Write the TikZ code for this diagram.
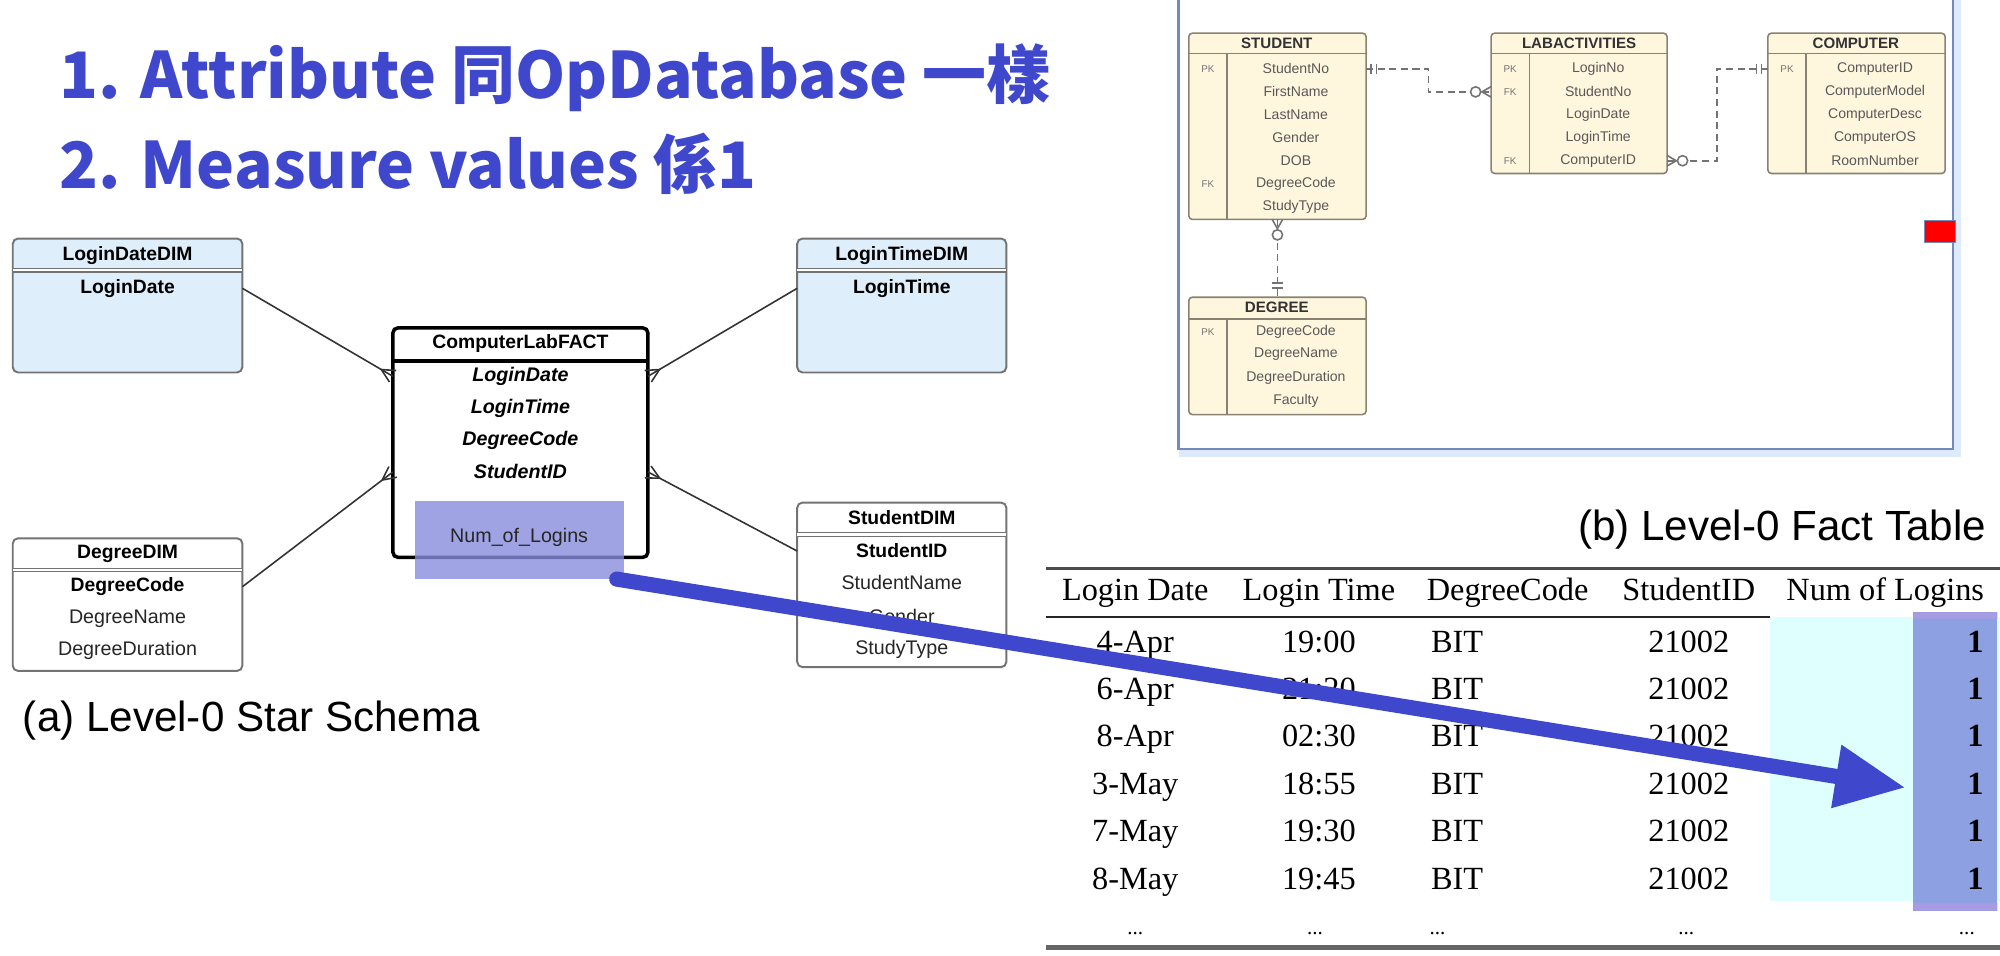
\documentclass[tikz,border=0pt]{standalone}
\usepackage{fontspec}
\setmainfont{Liberation Serif}
\newfontfamily\arialf{Liberation Sans}
\newfontfamily\cjk{Noto Sans CJK TC}
\usetikzlibrary{arrows.meta,calc,fit}

\definecolor{titleblue}{RGB}{63,72,204}
\definecolor{dimblue}{RGB}{222,238,250}
\definecolor{dimline}{RGB}{115,115,115}
\definecolor{erfill}{RGB}{255,246,222}
\definecolor{erline}{RGB}{135,130,115}
\definecolor{hilite}{RGB}{136,140,221}
\definecolor{cyanbg}{RGB}{223,255,255}
\definecolor{colblue}{RGB}{140,160,226}
\definecolor{colpurple}{RGB}{168,155,226}
\definecolor{framebl}{RGB}{115,138,192}
\definecolor{glowc}{RGB}{222,234,252}

\newcommand\crowfoot[5]{\draw[#5] ($(#1)!#4!90:(#2)$) -- ($(#1)!#3!(#2)$) -- ($(#1)!#4!-90:(#2)$);}

\begin{document}
\begin{tikzpicture}[x=0.12755mm,y=-0.12755mm,
  every node/.style={inner sep=0pt,outer sep=0pt},
  ttl/.style={font=\cjk\bfseries\fontsize{18.2}{22}\selectfont,text=titleblue,anchor=base west},
  figcap/.style={font=\arialf\fontsize{12}{14}\selectfont},
  dimbox/.style={draw=dimline,line width=0.55pt,rounded corners=1.5pt},
  hsep/.style={draw=dimline,double,double distance=0.6pt,line width=0.35pt},
  hd/.style={font=\arialf\bfseries\fontsize{5.5}{7}\selectfont},
  fkey/.style={font=\arialf\bfseries\itshape\fontsize{5.6}{7}\selectfont},
  attr/.style={font=\arialf\fontsize{5.6}{7}\selectfont,text=black!85},
  rel/.style={draw=black!80,line width=0.45pt},
  ertab/.style={draw=erline,fill=erfill,line width=0.45pt,rounded corners=1pt},
  erln/.style={draw=erline,line width=0.4pt},
  erhd/.style={font=\arialf\bfseries\fontsize{4.3}{5}\selectfont,text=black!80},
  errow/.style={font=\arialf\fontsize{4}{5}\selectfont,text=black!65},
  erkey/.style={font=\arialf\fontsize{2.8}{3}\selectfont,text=black!55},
  erlink/.style={draw=black!55,dash pattern=on 2pt off 1.3pt,line width=0.45pt},
  ermark/.style={draw=black!55,line width=0.45pt},
  tc/.style={font=\fontsize{9.2}{11}\selectfont,anchor=base},
  bigarr/.style={-{Triangle[length=20pt,width=17pt]},line width=4.3pt,draw=titleblue,line cap=round}
]
\useasboundingbox (0,0) rectangle (1568,749);

\node[ttl] (t1) at (47,77) {1. Attribute 同OpDatabase 一樣};
\node[ttl] (t2) at (47,148) {2. Measure values 係1};

\node[dimbox,fill=dimblue,fit={(10,187)(190,292)}] (ldd) {};
\draw[hsep] (ldd.west |- 0,212) -- (ldd.east |- 0,212);
\node[hd] (ldd0) at (100,200) {LoginDateDIM};
\node[hd] (ldd1) at (100,226) {LoginDate};

\node[dimbox,fill=dimblue,fit={(625,187)(789,292)}] (ltd) {};
\draw[hsep] (ltd.west |- 0,212) -- (ltd.east |- 0,212);
\node[hd] (ltd0) at (707,200) {LoginTimeDIM};
\node[hd] (ltd1) at (707,226) {LoginTime};

\node[dimbox,fill=white,fit={(10,422)(190,526)}] (ddim) {};
\draw[hsep] (ddim.west |- 0,447) -- (ddim.east |- 0,447);
\node[hd] (ddim0) at (100,434) {DegreeDIM};
\node[hd] (ddim1) at (100,460) {DegreeCode};
\node[attr] (ddim2) at (100,485) {DegreeName};
\node[attr] (ddim3) at (100,510) {DegreeDuration};

\node[dimbox,fill=white,fit={(625,394)(789,523)}] (sdim) {};
\draw[hsep] (sdim.west |- 0,419) -- (sdim.east |- 0,419);
\node[hd] (sdim0) at (707,406) {StudentDIM};
\node[hd] (sdim1) at (707,432) {StudentID};
\node[attr] (sdim2) at (707,457) {StudentName};
\node[attr] (sdim3) at (707,483) {Gender};
\node[attr] (sdim4) at (707,509) {StudyType};

\node[draw=black,line width=1pt,rounded corners=1.5pt,fill=white,fit={(308,257)(508,437)}] (fact) {};
\draw[black,line width=1pt] (fact.west |- 0,283) -- (fact.east |- 0,283);
\node[hd] (fact0) at (408,269) {ComputerLabFACT};
\node[fkey] (fk1) at (408,295) {LoginDate};
\node[fkey] (fk2) at (408,320) {LoginTime};
\node[fkey] (fk3) at (408,345) {DegreeCode};
\node[fkey] (fk4) at (408,370) {StudentID};
\node[fill=hilite,fill opacity=0.8,fit={(325,393)(489,454)}] (hl) {};
\node[attr] (meas) at (407,421) {Num\_of\_Logins};

\draw[rel] (ldd.east |- ldd1) coordinate (d1) -- (fact.west |- fk1) coordinate (c1);
\draw[rel] (ltd.west |- ltd1) coordinate (d2) -- (fact.east |- fk1) coordinate (c2);
\draw[rel] (ddim.east |- ddim1) coordinate (d3) -- (fact.west |- fk4) coordinate (c3);
\draw[rel] (sdim.west |- sdim1) coordinate (d4) -- (fact.east |- fk4) coordinate (c4);
\crowfoot{c1}{d1}{3.8pt}{1.9pt}{rel}
\crowfoot{c2}{d2}{3.8pt}{1.9pt}{rel}
\crowfoot{c3}{d3}{3.8pt}{1.9pt}{rel}
\crowfoot{c4}{d4}{3.8pt}{1.9pt}{rel}

\node[figcap,anchor=west] (capa) at (18,565) {(a) Level-0 Star Schema};

\draw[glowc,line width=2.5pt] (1534,0) -- (1534,355) -- (924,355);
\draw[framebl,line width=0.7pt] (924,0) -- (924,352) -- (1531,352) -- (1531,0);
\node[fill=red,draw=framebl,line width=0.4pt,fit={(1509,173)(1533,190)}] (redbox) {};

\node[ertab,fit={(932,26)(1071,172)}] (stu) {};
\draw[erln] (stu.west |- 0,42) -- (stu.east |- 0,42) (962,42) -- (962,172);
\node[erhd] (stu0) at (1001,34) {STUDENT};
\foreach \t [count=\i] in {StudentNo,FirstName,LastName,Gender,DOB,DegreeCode,StudyType}
  \node[errow] (stu\i) at (1016,36+18*\i) {\t};
\node[erkey] (stupk) at (947,54) {PK};
\node[erkey] (stufk) at (947,144) {FK};

\node[ertab,fit={(1169,26)(1307,136)}] (lab) {};
\draw[erln] (lab.west |- 0,42) -- (lab.east |- 0,42) (1199,42) -- (1199,136);
\node[erhd] (lab0) at (1238,34) {LABACTIVITIES};
\foreach \t [count=\i] in {LoginNo,StudentNo,LoginDate,LoginTime,ComputerID}
  \node[errow] (lab\i) at (1253,36+18*\i) {\t};
\node[erkey] (labpk) at (1184,54) {PK};
\node[erkey] (labfk1) at (1184,72) {FK};
\node[erkey] (labfk2) at (1184,126) {FK};

\node[ertab,fit={(1386,26)(1525,136)}] (comp) {};
\draw[erln] (comp.west |- 0,42) -- (comp.east |- 0,42) (1416,42) -- (1416,136);
\node[erhd] (comp0) at (1455,34) {COMPUTER};
\foreach \t [count=\i] in {ComputerID,ComputerModel,ComputerDesc,ComputerOS,RoomNumber}
  \node[errow] (comp\i) at (1470,36+18*\i) {\t};
\node[erkey] (comppk) at (1401,54) {PK};

\node[ertab,fit={(932,233)(1071,325)}] (deg) {};
\draw[erln] (deg.west |- 0,250) -- (deg.east |- 0,250) (962,250) -- (962,325);
\node[erhd] (deg0) at (1001,241) {DEGREE};
\foreach \t [count=\i] in {DegreeCode,DegreeName,DegreeDuration,Faculty}
  \node[errow] (deg\i) at (1016,242+18*\i) {\t};
\node[erkey] (degpk) at (947,260) {PK};

\draw[erlink] (stu.east |- stu1) coordinate (a1) -| (1120,72) coordinate (j1) -- (lab.west |- lab2) coordinate (b1);
\draw[ermark] (1075,50) -- (1075,58) (1079,50) -- (1079,58);
\draw[ermark,fill=white] ($(b1)!4.4pt!(j1)$) circle (1.45pt);
\crowfoot{b1}{j1}{2.6pt}{1.5pt}{ermark}

\draw[erlink] (lab.east |- lab5) coordinate (a2) -- (1346,126) coordinate (j2) |- (comp.west |- comp1) coordinate (b2);
\draw[ermark] (1377,50) -- (1377,58) (1381,50) -- (1381,58);
\draw[ermark,fill=white] ($(a2)!4.4pt!(j2)$) circle (1.45pt);
\crowfoot{a2}{j2}{2.6pt}{1.5pt}{ermark}

\draw[erlink] (stu.south) coordinate (a3) -- (deg.north) coordinate (b3);
\draw[ermark] (997,222) -- (1006,222) (997,226) -- (1006,226);
\draw[ermark,fill=white] ($(a3)!4.4pt!(b3)$) circle (1.45pt);
\crowfoot{a3}{b3}{2.6pt}{1.5pt}{ermark}

\node[figcap,anchor=east] (capb) at (1557,415) {(b) Level-0 Fact Table};
\fill[cyanbg] (1388,484) rectangle (1568,706);
\node[fill=colblue,fit={(1500,480)(1566,714)}] (ncol) {};
\fill[colpurple] (1500,480) rectangle (1566,485) (1500,708) rectangle (1566,714);
\draw[black!70,line width=0.9pt] (820,446) -- (1568,446);
\draw[black!85,line width=0.6pt] (820,484) -- (1388,484);
\draw[black!60,line width=1.3pt] (820,743) -- (1568,743);

\node[tc] (h1) at (890,471) {Login Date};
\node[tc] (h2) at (1034,471) {Login Time};
\node[tc] (h3) at (1182,471) {DegreeCode};
\node[tc] (h4) at (1324,471) {StudentID};
\node[tc] (h5) at (1478,471) {Num of Logins};
\foreach \d/\t [count=\i] in {4-Apr/19:00,6-Apr/21:20,8-Apr/02:30,3-May/18:55,7-May/19:30,8-May/19:45}{
  \node[tc] (dt\i) at (890,474+37.2*\i) {\d};
  \node[tc] (tm\i) at (1034,474+37.2*\i) {\t};
  \node[tc,anchor=base west] (dg\i) at (1122,474+37.2*\i) {BIT};
  \node[tc] (sid\i) at (1324,474+37.2*\i) {21002};
  \node[tc,anchor=base east,font=\bfseries\fontsize{9.2}{11}\selectfont] (n\i) at (1555,474+37.2*\i) {1};
}
\foreach \x [count=\i] in {890,1031,1127,1322,1542}
  \node[tc,font=\fontsize{6}{7}\selectfont] (dots\i) at (\x,733) {...};

\draw[bigarr] ([xshift=-2pt]hl.south east) -- ($(ncol.west |- sid4)+(-6,3)$);
\end{tikzpicture}
\end{document}
